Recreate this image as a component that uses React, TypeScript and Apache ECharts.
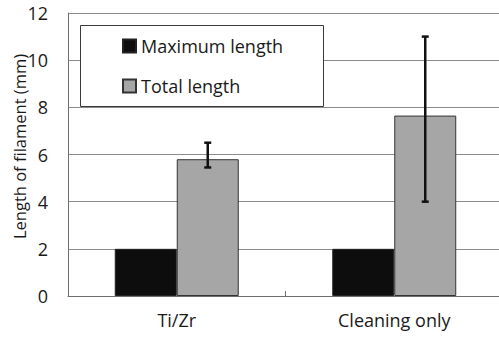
import React, { useEffect, useRef } from "react";
import * as echarts from "echarts";

const categories = ["Ti/Zr", "Cleaning only"];
const maxLength = [2, 2];
const totalLength = [5.8, 7.65];
const totalLow = [5.45, 4.0];
const totalHigh = [6.5, 11.0];
const yTicks = [0, 2, 4, 6, 8, 10, 12];

const FONT = "'Open Sans', 'Noto Sans', sans-serif";
const CAT_GAP = 0.43;

export default function App() {
  const ref = useRef<HTMLDivElement>(null);

  useEffect(() => {
    if (!ref.current) return;
    const chart = echarts.init(ref.current, null, { renderer: "svg" });

    const errorData = categories.map((_, i) => [i, totalLow[i], totalHigh[i]]);

    chart.setOption({
      animation: false,
      backgroundColor: "#ffffff",
      textStyle: { fontFamily: FONT },
      grid: { left: 68, top: 13, right: -4, bottom: 42, outerBoundsMode: "none", containLabel: false },
      graphic: [
        {
          type: "rect",
          z: 10,
          shape: { x: 80.5, y: 25.5, width: 243, height: 81 },
          style: { fill: "#ffffff", stroke: "#3a3a3a", lineWidth: 1 },
        },
      ],
      legend: {
        z: 20,
        orient: "vertical",
        left: 117,
        top: 32,
        itemWidth: 13,
        itemHeight: 13,
        itemGap: 22,
        icon: "rect",
        textStyle: { fontFamily: FONT, fontSize: 18, color: "#1a1a1a" },
        data: ["Maximum length", "Total length"],
      },
      xAxis: {
        type: "category",
        data: categories,
        axisLine: { lineStyle: { color: "#6e6e6e", width: 1 } },
        axisTick: { show: true, inside: true, length: 5, lineStyle: { color: "#6e6e6e" } },
        axisLabel: { fontFamily: FONT, fontSize: 18, color: "#1a1a1a", margin: 15 },
      },
      yAxis: {
        type: "value",
        min: yTicks[0],
        max: yTicks[yTicks.length - 1],
        interval: 2,
        name: "Length of filament (mm)",
        nameLocation: "middle",
        nameGap: 40,
        nameMoveOverlap: false,
        nameTextStyle: { fontFamily: FONT, fontSize: 16.5, color: "#1a1a1a", padding: [0, 0, 0, 16] },
        axisLine: { show: true, lineStyle: { color: "#6e6e6e", width: 1 } },
        axisTick: { show: false },
        axisLabel: { fontFamily: FONT, fontSize: 18, color: "#1a1a1a", margin: 20 },
        splitLine: { lineStyle: { color: "#8c8c8c", width: 1 } },
      },
      series: [
        {
          name: "Maximum length",
          type: "bar",
          data: maxLength,
          barGap: "0%",
          barCategoryGap: "43%",
          itemStyle: { color: "#0d0d0d", borderColor: "#222", borderWidth: 1 },
        },
        {
          name: "Total length",
          type: "bar",
          data: totalLength,
          barGap: "0%",
          barCategoryGap: "43%",
          itemStyle: { color: "#a6a6a6", borderColor: "#333", borderWidth: 1 },
        },
        {
          type: "custom",
          z: 5,
          data: errorData,
          renderItem: (params: any, api: any) => {
            const idx = api.value(0);
            const low = api.coord([idx, api.value(1)]);
            const high = api.coord([idx, api.value(2)]);
            const band = api.size([1, 0])[0];
            const barW = (band * (1 - CAT_GAP)) / 2;
            const x = low[0] + barW / 2;
            const cap = 3.5;
            const style = { stroke: "#111", lineWidth: 2.5, fill: "none" };
            return {
              type: "group",
              children: [
                { type: "line", shape: { x1: x, y1: high[1], x2: x, y2: low[1] }, style },
                { type: "line", shape: { x1: x - cap, y1: high[1], x2: x + cap, y2: high[1] }, style },
                { type: "line", shape: { x1: x - cap, y1: low[1], x2: x + cap, y2: low[1] }, style },
              ],
            };
          },
        },
      ],
    });

    return () => chart.dispose();
  }, []);

  return (
    <div
      ref={ref}
      style={{ position: "fixed", left: 0, top: 0, width: 499, height: 338 }}
    />
  );
}
